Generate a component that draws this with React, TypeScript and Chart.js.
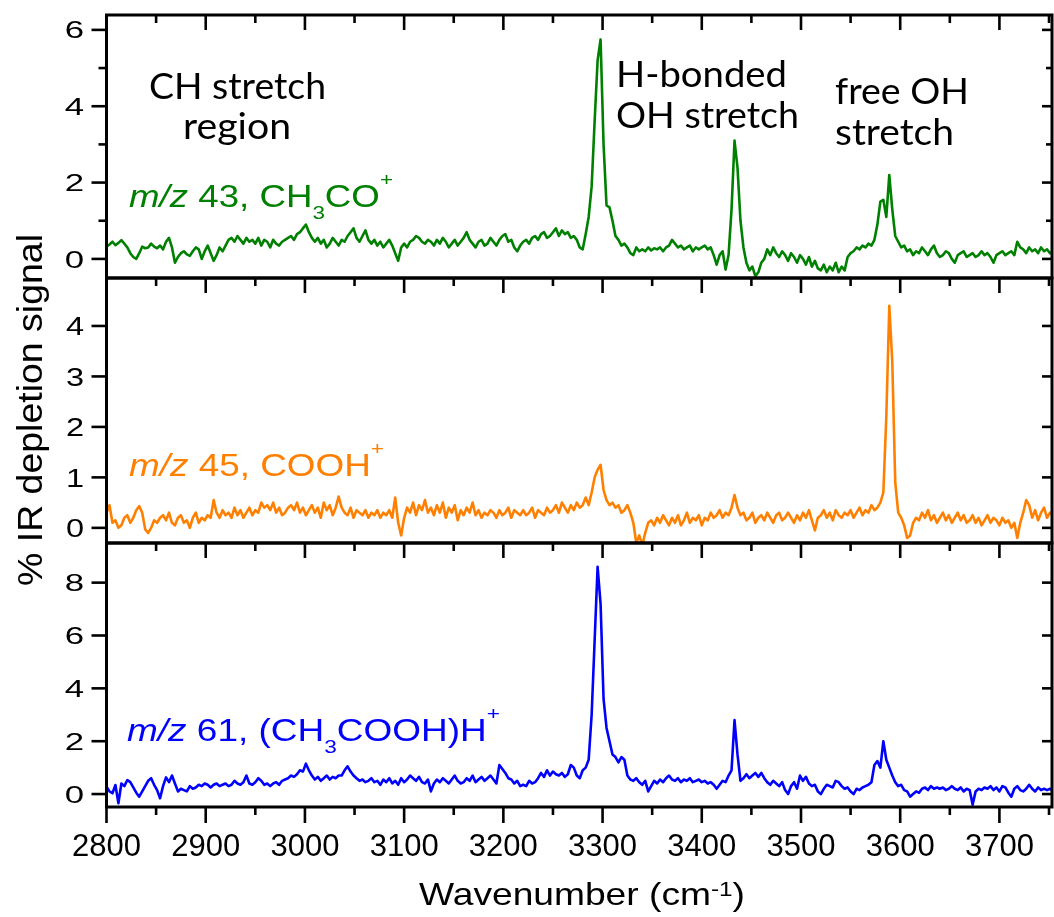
import React, { useEffect, useRef } from "react";
import { Chart, registerables } from "chart.js";

Chart.register(...registerables);

// ---------------- data ----------------
const WAVENUMBER_START = 2800; // cm-1, first sample
const WAVENUMBER_STEP = 3; // cm-1 between samples
const X_MIN = 2800;
const X_MAX = 3753;

// m/z 43, CH3CO+  (% IR depletion)
const ch3coValues = [
  0.32, 0.38, 0.45, 0.36, 0.42, 0.49, 0.4, 0.3, 0.15, 0.05,
  0.0, 0.15, 0.32, 0.28, 0.3, 0.4, 0.32, 0.28, 0.35, 0.25,
  0.45, 0.55, 0.3, -0.1, 0.05, 0.15, 0.2, 0.12, 0.08, 0.2,
  0.3, 0.25, 0.0, 0.2, 0.35, 0.15, -0.05, 0.1, 0.3, 0.2,
  0.35, 0.5, 0.55, 0.45, 0.6, 0.5, 0.4, 0.55, 0.45, 0.5,
  0.4, 0.55, 0.35, 0.5, 0.45, 0.3, 0.5, 0.4, 0.35, 0.45,
  0.5, 0.55, 0.6, 0.5, 0.65, 0.7, 0.8, 0.9, 0.7, 0.55,
  0.45, 0.55, 0.4, 0.5, 0.3, 0.4, 0.55, 0.45, 0.35, 0.5,
  0.45, 0.6, 0.7, 0.8, 0.55, 0.45, 0.6, 0.75, 0.5, 0.4,
  0.5, 0.35, 0.45, 0.3, 0.4, 0.5, 0.35, 0.15, -0.05, 0.3,
  0.4, 0.3, 0.45, 0.5, 0.6, 0.55, 0.45, 0.4, 0.5, 0.45,
  0.35, 0.5, 0.4, 0.55, 0.45, 0.3, 0.4, 0.5, 0.35, 0.45,
  0.55, 0.7, 0.5, 0.4, 0.3, 0.45, 0.5, 0.35, 0.4, 0.55,
  0.45, 0.35, 0.5, 0.6, 0.65, 0.45, 0.5, 0.3, 0.2, 0.35,
  0.45, 0.5, 0.4, 0.55, 0.6, 0.5, 0.65, 0.7, 0.55, 0.6,
  0.7, 0.8, 0.6, 0.75, 0.65, 0.7, 0.55, 0.6, 0.5, 0.3,
  0.25, 0.65, 1.1, 1.9, 3.6, 5.2, 5.75, 3.0, 1.4, 1.35,
  1.0, 0.6, 0.5, 0.35, 0.4, 0.3, 0.15, 0.1, 0.3, 0.2,
  0.25, 0.2, 0.3, 0.22, 0.28, 0.25, 0.3, 0.2, 0.3, 0.35,
  0.5, 0.4, 0.3, 0.35, 0.25, 0.3, 0.35, 0.2, 0.3, 0.25,
  0.3, 0.35, 0.25, 0.3, 0.1, -0.15, 0.1, 0.2, -0.28, 0.1,
  1.3, 3.1, 2.4, 1.0, 0.3, -0.1, -0.3, -0.2, -0.45, -0.35,
  -0.1, 0.0, 0.25, 0.1, 0.3, 0.15, 0.05, 0.2, 0.1, -0.05,
  0.15, 0.05, -0.1, 0.1, 0.0, -0.15, 0.05, -0.2, -0.05, -0.25,
  -0.3, -0.15, -0.35, -0.2, -0.3, -0.1, -0.35, -0.2, -0.3, 0.05,
  0.15, 0.2, 0.3, 0.25, 0.35, 0.3, 0.4, 0.35, 0.5, 0.9,
  1.5, 1.55, 1.1, 2.2, 1.3, 0.6, 0.45, 0.3, 0.35, 0.2,
  0.25, 0.1, 0.2, 0.15, 0.3, 0.2, 0.1, 0.25, 0.35, 0.15,
  0.05, 0.1, 0.2, 0.15, 0.0, -0.1, 0.1, 0.15, 0.2, 0.05,
  0.1, 0.15, 0.05, 0.1, 0.2, 0.1, 0.15, 0.05, -0.1, 0.1,
  0.15, 0.2, 0.1, 0.15, 0.2, 0.1, 0.45, 0.3, 0.25, 0.15,
  0.3, 0.2, 0.25, 0.15, 0.3, 0.2, 0.25, 0.15, 0.2,
];

// m/z 45, COOH+
const coohValues = [
  0.3, 0.45, 0.1, 0.15, 0.0, 0.05, 0.2, 0.25, 0.1, 0.2,
  0.35, 0.43, 0.3, -0.03, -0.1, 0.0, 0.15, 0.1, 0.2, 0.25,
  0.15, 0.3, 0.1, 0.05, 0.2, 0.25, 0.1, 0.15, 0.0, 0.2,
  0.3, 0.1, 0.2, 0.15, 0.25, 0.2, 0.55, 0.3, 0.2, 0.35,
  0.25, 0.3, 0.2, 0.4, 0.25, 0.35, 0.2, 0.3, 0.4, 0.25,
  0.35, 0.3, 0.5, 0.4, 0.45, 0.35, 0.5, 0.3, 0.4, 0.25,
  0.3, 0.4, 0.45, 0.35, 0.5, 0.3, 0.4, 0.25, 0.35, 0.45,
  0.3, 0.4, 0.2, 0.5, 0.35, 0.45, 0.25, 0.4, 0.62, 0.4,
  0.3, 0.25, 0.4, 0.2, 0.35, 0.3, 0.25, 0.35, 0.2, 0.3,
  0.25, 0.35, 0.2, 0.3, 0.25, 0.35, 0.2, 0.6, 0.1, -0.15,
  0.2, 0.4, 0.3, 0.5, 0.25, 0.45, 0.35, 0.55, 0.3, 0.4,
  0.25, 0.45, 0.3, 0.5, 0.2, 0.4, 0.3, 0.45, 0.15, 0.35,
  0.25, 0.4, 0.3, 0.5, 0.25, 0.35, 0.2, 0.3, 0.25, 0.35,
  0.3, 0.2, 0.35, 0.25, 0.3, 0.4, 0.2, 0.35, 0.3, 0.25,
  0.35, 0.25, 0.3, 0.4, 0.2, 0.35, 0.3, 0.25, 0.4, 0.3,
  0.35, 0.45, 0.3, 0.5, 0.4, 0.3, 0.45, 0.35, 0.5, 0.4,
  0.45, 0.6, 0.45, 0.7, 1.0, 1.15, 1.25, 0.75, 0.55, 0.45,
  0.5, 0.4, 0.45, 0.3, 0.35, 0.45, 0.3, 0.1, -0.3, -0.15,
  -0.35, -0.1, 0.1, 0.15, 0.05, 0.2, 0.1, 0.25, 0.15, 0.05,
  0.2, 0.1, 0.25, 0.05, 0.15, 0.3, 0.1, 0.2, 0.15, 0.25,
  0.05, 0.2, 0.15, 0.3, 0.2, 0.25, 0.35, 0.2, 0.3, 0.25,
  0.4, 0.65, 0.4, 0.25, 0.3, 0.15, 0.2, 0.3, 0.1, 0.2,
  0.25, 0.15, 0.3, 0.2, 0.1, 0.25, 0.3, 0.15, 0.2, 0.3,
  0.2, 0.1, 0.25, 0.15, 0.3, 0.2, 0.35, 0.15, -0.05, 0.2,
  0.25, 0.35, 0.2, 0.3, 0.15, 0.35, 0.25, 0.2, 0.3, 0.25,
  0.35, 0.2, 0.3, 0.4, 0.25, 0.35, 0.3, 0.45, 0.35, 0.4,
  0.5, 0.7, 2.2, 4.4, 3.3, 0.9, 0.3, 0.2, 0.05, -0.2,
  -0.15, 0.1, 0.2, 0.15, 0.3, 0.2, 0.35, 0.15, 0.25, 0.1,
  0.2, 0.3, 0.15, 0.25, 0.1, 0.2, 0.3, 0.15, 0.25, 0.1,
  0.15, 0.25, 0.1, 0.2, 0.05, 0.15, 0.25, 0.1, 0.2, 0.15,
  0.05, 0.2, 0.1, 0.15, 0.0, 0.1, -0.2, 0.1, 0.3, 0.55,
  0.45, 0.2, 0.35, 0.15, 0.3, 0.4, 0.2, 0.3, 0.25,
];

// m/z 61, (CH3COOH)H+
const protonatedValues = [
  0.28, 0.1, 0.03, 0.34, -0.35, 0.4, 0.3, 0.53, 0.45, 0.25,
  0.05, -0.1, 0.1, 0.3, 0.5, 0.6, 0.35, 0.15, -0.16, 0.3,
  0.63, 0.45, 0.7, 0.4, 0.1, 0.2, 0.15, 0.1, 0.3, 0.2,
  0.25, 0.35, 0.3, 0.4, 0.35, 0.25, 0.35, 0.4, 0.3, 0.35,
  0.4, 0.3, 0.35, 0.5, 0.4, 0.35, 0.45, 0.7, 0.4, 0.35,
  0.45, 0.6, 0.5, 0.35, 0.4, 0.3, 0.4, 0.45, 0.35, 0.5,
  0.55, 0.6, 0.7, 0.65, 0.75, 0.9, 0.85, 1.15, 0.9, 0.7,
  0.55, 0.65, 0.5, 0.6, 0.7, 0.55, 0.65, 0.6, 0.7, 0.7,
  0.9, 1.05, 0.85, 0.7, 0.6, 0.5, 0.55, 0.45, 0.5, 0.6,
  0.45, 0.5, 0.35, 0.55, 0.45, 0.6, 0.4, 0.5, 0.35, 0.6,
  0.45, 0.55, 0.7, 0.6, 0.5, 0.65, 0.45, 0.4, 0.55, 0.1,
  0.4, 0.55, 0.45, 0.6, 0.5, 0.4, 0.55, 0.7, 0.5, 0.4,
  0.45, 0.6, 0.5, 0.7, 0.45, 0.55, 0.65, 0.5, 0.6, 0.7,
  0.55, 0.4, 1.1, 0.95, 0.8, 0.6, 0.55, 0.4, 0.5, 0.3,
  0.35, 0.3, 0.5, 0.4, 0.45, 0.6, 0.8, 0.65, 0.9, 0.7,
  0.85, 0.75, 0.7, 0.8, 0.65, 0.75, 1.1, 1.0, 0.7, 0.6,
  0.9, 1.0, 1.3, 3.0, 5.8, 8.6, 7.2, 3.6, 2.5, 2.0,
  1.5, 1.4, 1.2, 1.4, 1.3, 0.7, 0.55, 0.5, 0.6, 0.45,
  0.35, 0.5, 0.1, 0.3, 0.5, 0.4, 0.55, 0.45, 0.6, 0.7,
  0.55, 0.5, 0.6, 0.45, 0.55, 0.5, 0.6, 0.45, 0.5, 0.55,
  0.45, 0.5, 0.4, 0.45, 0.35, 0.2, 0.35, 0.5, 0.45, 0.7,
  0.9, 2.8, 1.5, 0.5, 0.6, 0.75, 0.6, 0.7, 0.8, 0.65,
  0.8, 0.6, 0.45, 0.35, 0.5, 0.4, 0.3, 0.45, 0.15, 0.0,
  0.3, 0.45, 0.2, 0.7, 0.5, 0.65, 0.4, 0.3, 0.35, 0.1,
  0.0, 0.2, 0.35, 0.3, 0.25, 0.5, 0.45, 0.3, 0.2, 0.25,
  0.1, 0.0, 0.2, 0.15, 0.25, 0.3, 0.35, 0.45, 1.1, 1.25,
  1.0, 2.0, 1.3, 1.0, 0.7, 0.45, 0.3, 0.35, 0.15, 0.1,
  -0.1, 0.0, 0.1, 0.05, 0.2, 0.25, 0.15, 0.3, 0.2, 0.25,
  0.2, 0.25, 0.15, 0.2, 0.3, 0.2, 0.15, 0.25, 0.1, 0.2,
  0.15, -0.4, 0.1, 0.2, 0.15, 0.25, 0.2, 0.3, 0.15, 0.25,
  0.1, 0.3, 0.25, 0.05, -0.1, 0.2, 0.3, 0.15, 0.1, 0.2,
  0.35, 0.2, 0.1, 0.25, 0.15, 0.2, 0.15, 0.2, 0.1,
];

// tick values / labels
const xMajorTicks = [2800, 2900, 3000, 3100, 3200, 3300, 3400, 3500, 3600, 3700];
const xMinorTicks = [2850, 2950, 3050, 3150, 3250, 3350, 3450, 3550, 3650, 3750];
const topMajorTicks = [0, 2, 4, 6];
const topMinorTicks = [1, 3, 5];
const middleMajorTicks = [0, 1, 2, 3, 4];
const middleMinorTicks: number[] = [];
const bottomMajorTicks = [0, 2, 4, 6, 8];
const bottomMinorTicks: number[] = [];

// ---------------- layout / styles ----------------
const W = 1054;
const H = 917;
const PLOT_LEFT = 106.5;
const PLOT_RIGHT = 1052;
const ARIAL = '"Liberation Sans", Arial, Helvetica, sans-serif';
const CALIBRI = 'Lato, "Open Sans", sans-serif';

type Run = { text: string; size: number; italic?: boolean; dy?: number };

function measureRuns(ctx: CanvasRenderingContext2D, runs: Run[], family: string) {
  return runs.map((r) => {
    ctx.font = `${r.italic ? "italic " : ""}${r.size}px ${family}`;
    return ctx.measureText(r.text).width;
  });
}

function drawRuns(
  ctx: CanvasRenderingContext2D,
  runs: Run[],
  family: string,
  x: number,
  baseline: number,
  targetWidth: number,
  color: string
) {
  const widths = measureRuns(ctx, runs, family);
  const total = widths.reduce((a, b) => a + b, 0);
  const s = targetWidth / total;
  ctx.save();
  ctx.translate(x, baseline);
  ctx.scale(s, 1);
  ctx.fillStyle = color;
  ctx.textAlign = "left";
  ctx.textBaseline = "alphabetic";
  let cx = 0;
  runs.forEach((r, i) => {
    ctx.font = `${r.italic ? "italic " : ""}${r.size}px ${family}`;
    ctx.fillText(r.text, cx, r.dy || 0);
    cx += widths[i];
  });
  ctx.restore();
}

function line(ctx: CanvasRenderingContext2D, x1: number, y1: number, x2: number, y2: number) {
  ctx.beginPath();
  ctx.moveTo(x1, y1);
  ctx.lineTo(x2, y2);
  ctx.stroke();
}

type Panel = {
  key: string;
  values: number[];
  color: string;
  top: number;
  bottom: number;
  yMin: number;
  yMax: number;
  major: number[];
  minor: number[];
  tickFont: number;
  tickStretch: number;
  label: Run[];
  labelX: number;
  labelBaseline: number;
  labelWidth: number;
  isBottom: boolean;
  isTop: boolean;
};

const panels: Panel[] = [
  {
    key: "ch3co",
    values: ch3coValues,
    color: "#008000",
    top: 15,
    bottom: 278,
    yMin: -0.5,
    yMax: 6.39,
    major: topMajorTicks,
    minor: topMinorTicks,
    tickFont: 24,
    tickStretch: 1.45,
    label: [
      { text: "m/z", size: 31, italic: true },
      { text: " 43, CH", size: 31 },
      { text: "3", size: 19, dy: 12 },
      { text: "CO", size: 31 },
      { text: "+", size: 19, dy: -21 },
    ],
    labelX: 129,
    labelBaseline: 207,
    labelWidth: 264,
    isBottom: false,
    isTop: true,
  },
  {
    key: "cooh",
    values: coohValues,
    color: "#FF8000",
    top: 278,
    bottom: 543,
    yMin: -0.3,
    yMax: 4.95,
    major: middleMajorTicks,
    minor: middleMinorTicks,
    tickFont: 26,
    tickStretch: 1.25,
    label: [
      { text: "m/z", size: 31, italic: true },
      { text: " 45, COOH", size: 31 },
      { text: "+", size: 19, dy: -21 },
    ],
    labelX: 129,
    labelBaseline: 476,
    labelWidth: 255,
    isBottom: false,
    isTop: false,
  },
  {
    key: "protonated",
    values: protonatedValues,
    color: "#0000FF",
    top: 543,
    bottom: 807,
    yMin: -0.49,
    yMax: 9.5,
    major: bottomMajorTicks,
    minor: bottomMinorTicks,
    tickFont: 24,
    tickStretch: 1.45,
    label: [
      { text: "m/z", size: 31, italic: true },
      { text: " 61, (CH", size: 31 },
      { text: "3", size: 19, dy: 12 },
      { text: "COOH)H", size: 31 },
      { text: "+", size: 19, dy: -21 },
    ],
    labelX: 127,
    labelBaseline: 741,
    labelWidth: 373,
    isBottom: true,
    isTop: false,
  },
];

function makePlugin(p: Panel) {
  return {
    id: "panelDecor_" + p.key,
    afterDatasetsDraw(chart: any) {
      const ctx: CanvasRenderingContext2D = chart.ctx;
      const a = chart.chartArea;
      const xs = chart.scales.x;
      const ys = chart.scales.y;
      ctx.save();
      ctx.strokeStyle = "#000";
      ctx.lineCap = "butt";
      ctx.lineWidth = 2.6;
      // x ticks: inward at top, outward at bottom of the lowest panel
      for (const v of xMajorTicks) {
        const px = xs.getPixelForValue(v);
        line(ctx, px, a.top, px, a.top + 15);
        if (p.isBottom) line(ctx, px, a.bottom, px, a.bottom + 16);
      }
      for (const v of xMinorTicks) {
        const px = xs.getPixelForValue(v);
        line(ctx, px, a.top, px, a.top + 8);
        if (p.isBottom) line(ctx, px, a.bottom, px, a.bottom + 8);
      }
      // y ticks: outward on left, inward on right
      for (const v of p.major) {
        const py = ys.getPixelForValue(v);
        line(ctx, a.left - 15, py, a.left, py);
        line(ctx, a.right - 10, py, a.right, py);
      }
      for (const v of p.minor) {
        const py = ys.getPixelForValue(v);
        line(ctx, a.left - 8, py, a.left, py);
        line(ctx, a.right - 6, py, a.right, py);
      }
      // frame
      ctx.lineWidth = 3;
      ctx.strokeRect(a.left, a.top, a.right - a.left, a.bottom - a.top);

      // y tick labels
      ctx.fillStyle = "#000";
      ctx.textAlign = "right";
      ctx.textBaseline = "alphabetic";
      ctx.font = `${p.tickFont}px ${ARIAL}`;
      const cap = p.tickFont * 0.716;
      for (const v of p.major) {
        const py = ys.getPixelForValue(v);
        ctx.save();
        ctx.translate(84, py + cap / 2);
        ctx.scale(p.tickStretch, 1);
        ctx.fillText(String(v), 0, 0);
        ctx.restore();
      }
      ctx.restore();
    },
    afterDraw(chart: any) {
      const ctx: CanvasRenderingContext2D = chart.ctx;
      const xs = chart.scales.x;
      // series label
      drawRuns(ctx, p.label, ARIAL, p.labelX, p.labelBaseline, p.labelWidth, p.color);

      if (p.isTop) {
        const notes: [string, number, number, number][] = [
          ["CH stretch", 149, 99, 177],
          ["region", 183, 139, 108],
          ["H-bonded", 616, 87, 171],
          ["OH stretch", 616, 128, 183],
          ["free OH", 835, 104, 134],
          ["stretch", 835, 145, 119],
        ];
        for (const [t, x, y, w] of notes) {
          drawRuns(ctx, [{ text: t, size: 36 }], CALIBRI, x, y, w, "#000");
        }
      }

      if (p.isBottom) {
        // x tick labels
        ctx.save();
        ctx.fillStyle = "#000";
        ctx.font = `31px ${ARIAL}`;
        ctx.textAlign = "center";
        ctx.textBaseline = "alphabetic";
        for (const v of xMajorTicks) {
          ctx.fillText(String(v), xs.getPixelForValue(v), 856);
        }
        ctx.restore();
        // x title
        drawRuns(
          ctx,
          [
            { text: "Wavenumber (cm", size: 32 },
            { text: "-1", size: 21, dy: -9 },
            { text: ")", size: 32 },
          ],
          ARIAL,
          419,
          905,
          326,
          "#000"
        );
        // y title (rotated)
        ctx.save();
        ctx.translate(42, 586);
        ctx.rotate(-Math.PI / 2);
        drawRuns(ctx, [{ text: "% IR depletion signal", size: 35 }], ARIAL, 0, 0, 352, "#000");
        ctx.restore();
      }
    },
  };
}

export default function App() {
  const refs = [useRef<HTMLCanvasElement>(null), useRef<HTMLCanvasElement>(null), useRef<HTMLCanvasElement>(null)];

  useEffect(() => {
    const charts: Chart[] = [];
    panels.forEach((p, idx) => {
      const canvas = refs[idx].current;
      if (!canvas) return;
      const data = p.values.map((v, i) => ({ x: WAVENUMBER_START + i * WAVENUMBER_STEP, y: v }));
      const chart = new Chart(canvas, {
        type: "line",
        data: {
          datasets: [
            {
              data,
              borderColor: p.color,
              borderWidth: 2.6,
              pointRadius: 0,
              tension: 0,
              fill: false,
              borderJoinStyle: "round",
            },
          ],
        },
        options: {
          responsive: false,
          animation: false,
          devicePixelRatio: 1,
          events: [],
          layout: {
            padding: {
              left: PLOT_LEFT,
              right: W - PLOT_RIGHT,
              top: p.top,
              bottom: H - p.bottom,
            },
          },
          plugins: {
            legend: { display: false },
            tooltip: { enabled: false },
          },
          scales: {
            x: { type: "linear", min: X_MIN, max: X_MAX, display: false },
            y: { type: "linear", min: p.yMin, max: p.yMax, display: false },
          },
        },
        plugins: [makePlugin(p)],
      } as any);
      charts.push(chart);
    });
    const fontsAny: any = (document as any).fonts;
    if (fontsAny && fontsAny.load) {
      Promise.all([
        fontsAny.load(`36px Lato`),
        fontsAny.load(`31px "Liberation Sans"`),
        fontsAny.load(`italic 31px "Liberation Sans"`),
      ])
        .then(() => charts.forEach((c) => c.draw()))
        .catch(() => {});
    }
    return () => charts.forEach((c) => c.destroy());
  }, []);

  const canvasStyle: React.CSSProperties = { position: "absolute", left: 0, top: 0 };
  return (
    <div style={{ position: "fixed", left: 0, top: 0, width: W, height: H, background: "#fff", overflow: "hidden" }}>
      {refs.map((r, i) => (
        <canvas key={i} ref={r} width={W} height={H} style={canvasStyle} />
      ))}
    </div>
  );
}
